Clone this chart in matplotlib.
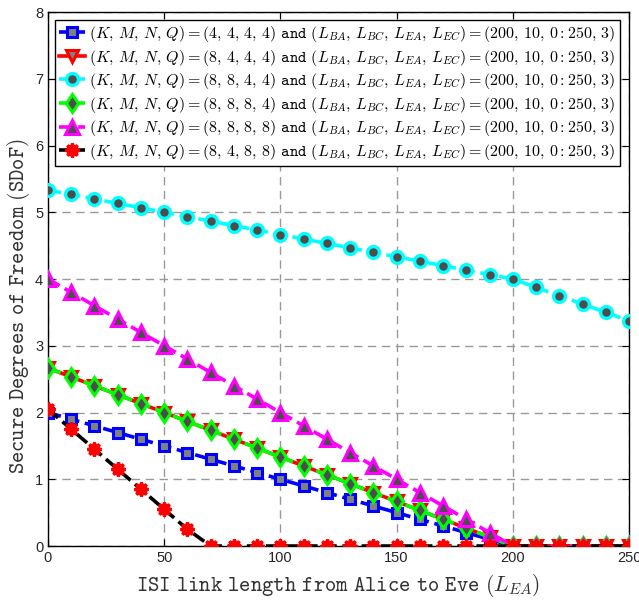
import matplotlib
matplotlib.use("Agg")
import matplotlib.pyplot as plt
import numpy as np

plt.rcParams['mathtext.fontset'] = 'cm'

L_EA = list(range(0, 251, 10))

sdof_4444 = [2.0, 1.9, 1.8, 1.7, 1.6, 1.5, 1.4, 1.3, 1.2, 1.1, 1.0, 0.9, 0.8, 0.7,
             0.6, 0.5, 0.4, 0.3, 0.2, 0.1, 0, 0, 0, 0, 0, 0]
sdof_8444 = [2.667, 2.533, 2.4, 2.267, 2.133, 2.0, 1.867, 1.733, 1.6, 1.467, 1.333,
             1.2, 1.067, 0.933, 0.8, 0.667, 0.533, 0.4, 0.267, 0.133, 0, 0, 0, 0, 0, 0]
sdof_8844 = [5.333, 5.267, 5.2, 5.133, 5.067, 5.0, 4.933, 4.867, 4.8, 4.733, 4.667,
             4.6, 4.533, 4.467, 4.4, 4.333, 4.267, 4.2, 4.133, 4.067, 4.0,
             3.875, 3.75, 3.625, 3.5, 3.375]
sdof_8884 = [2.667, 2.533, 2.4, 2.267, 2.133, 2.0, 1.867, 1.733, 1.6, 1.467, 1.333,
             1.2, 1.067, 0.933, 0.8, 0.667, 0.533, 0.4, 0.267, 0.133, 0, 0, 0, 0, 0, 0]
sdof_8888 = [4.0, 3.8, 3.6, 3.4, 3.2, 3.0, 2.8, 2.6, 2.4, 2.2, 2.0, 1.8, 1.6, 1.4,
             1.2, 1.0, 0.8, 0.6, 0.4, 0.2, 0, 0, 0, 0, 0, 0]
sdof_8488 = [2.05, 1.75, 1.45, 1.15, 0.85, 0.55, 0.25, 0, 0, 0, 0, 0, 0, 0, 0, 0,
             0, 0, 0, 0, 0, 0, 0, 0, 0, 0]

configs = ["(4,4,4,4)", "(8,4,4,4)", "(8,8,4,4)", "(8,8,8,4)", "(8,8,8,8)", "(8,4,8,8)"]
x_ticks = [0, 50, 100, 150, 200, 250]
y_ticks = [0, 1, 2, 3, 4, 5, 6, 7, 8]


def lab(c):
    c = c.replace(",", r",\,")
    return (r"$(K,\,M,\,N,\,Q)=" + c + r"$ $\mathtt{and}$ "
            r"$(L_{BA},\,L_{BC},\,L_{EA},\,L_{EC})=(200,\,10,\,0:250,\,3)$")


fig = plt.figure(figsize=(6.39, 6.02), dpi=100)
ax = fig.add_axes([0.0751, 0.093, 0.9093, 0.887])

lw = 2.6
gray = (0.5, 0.5, 0.5)
dgray = (0.3, 0.3, 0.3)
ax.plot(L_EA, sdof_4444, '--', color='blue', lw=lw, marker='s', ms=7.5,
        mfc=gray, mec='blue', mew=2.2, label=lab(configs[0]), zorder=3)
ax.plot(L_EA, sdof_8444, '-', color='red', lw=lw, marker='v', ms=9,
        mfc=gray, mec='red', mew=2.2, label=lab(configs[1]), zorder=3)
ax.plot(L_EA, sdof_8844, '--', color='cyan', lw=lw, marker='o', ms=8.5,
        mfc=dgray, mec='cyan', mew=2.4, label=lab(configs[2]), zorder=3)
ax.plot(L_EA, sdof_8884, '--', color=(0, 1, 0), lw=lw, marker='d', ms=9.5,
        mfc=dgray, mec=(0, 1, 0), mew=2.2, label=lab(configs[3]), zorder=3)
ax.plot(L_EA, sdof_8888, '--', color='magenta', lw=lw, marker='^', ms=9.5,
        mfc=dgray, mec='magenta', mew=2.2, label=lab(configs[4]), zorder=3)
ax.plot(L_EA, sdof_8488, '--', color='black', lw=lw, marker=(8, 1, 0), ms=10,
        mfc='red', mec='red', mew=2.2, label=lab(configs[5]), zorder=3)

ax.set_xlim(0, 250)
ax.set_ylim(0, 8)
ax.set_xticks(x_ticks)
ax.set_yticks(y_ticks)
ax.grid(True, linestyle=(0, (6, 4)), color=(0.6, 0.6, 0.6), lw=1.0)
ax.tick_params(direction='in', top=True, right=True, length=5,
               labelsize=10.5)
for t in ax.get_xticklabels() + ax.get_yticklabels():
    t.set_fontfamily('Liberation Sans')
    t.set_color((0.15, 0.15, 0.15))
for s in ax.spines.values():
    s.set_linewidth(1.0)

ax.set_xlabel(r"$\mathtt{ISI\ link\ length\ from\ Alice\ to\ Eve}\ (L_{EA})$",
              fontsize=15.5, labelpad=5, color=(0.2, 0.2, 0.2))
ax.set_ylabel(r"$\mathtt{Secure\ Degrees\ of\ Freedom\ (SDoF)}$",
              fontsize=15.5, color=(0.2, 0.2, 0.2))
ax.yaxis.set_label_coords(-0.028, 0.45)

leg = ax.legend(loc='upper left', bbox_to_anchor=(0.012, 0.985), fontsize=11.5,
                frameon=True, fancybox=False, edgecolor='black',
                framealpha=1, handlelength=1.6, handletextpad=0.3,
                borderpad=0.25, labelspacing=0.22, borderaxespad=0.0)
leg.get_frame().set_linewidth(1.0)

fig.savefig("out.png", dpi=100)
